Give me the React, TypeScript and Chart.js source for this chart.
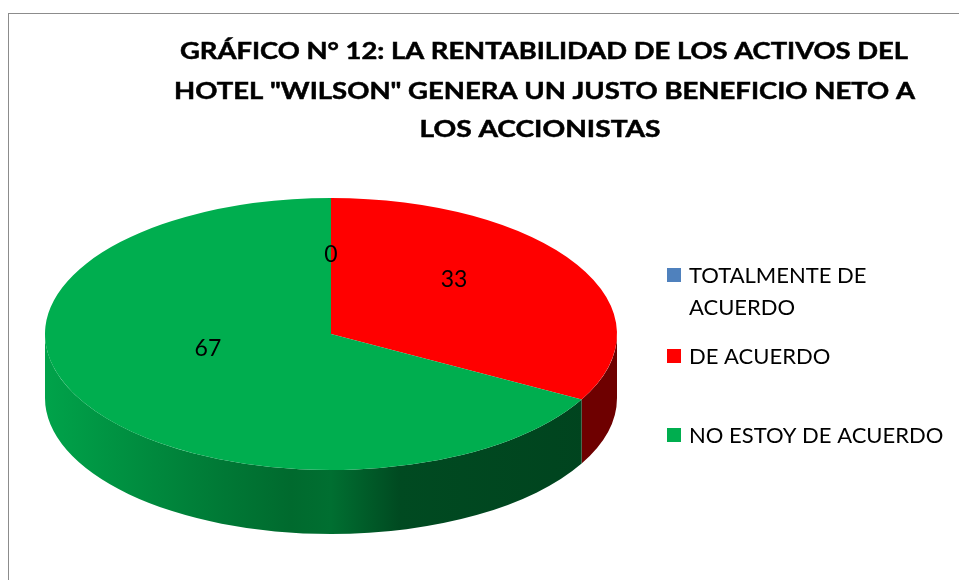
import React, { useEffect, useRef } from "react";
import { Chart, registerables } from "chart.js";

Chart.register(...registerables);

const CATEGORIES = ["TOTALMENTE DE ACUERDO", "DE ACUERDO", "NO ESTOY DE ACUERDO"];
const VALUES = [0, 33, 67];
const COLORS = ["#4F81BD", "#FF0000", "#00AE4F"];
const WALL_COLORS = ["#2F4D71", "#6E0000", "#00A34A"];
const TITLE_LINES = [
  "GRÁFICO N° 12: LA RENTABILIDAD DE LOS ACTIVOS DEL",
  'HOTEL "WILSON" GENERA UN JUSTO BENEFICIO NETO A',
  "LOS ACCIONISTAS",
];
const LEGEND_LINES = [["TOTALMENTE DE", "ACUERDO"], ["DE ACUERDO"], ["NO ESTOY DE ACUERDO"]];

const W = 959;
const H = 580;
const PIE_CX = 331;
const PIE_CY = 334;
const PIE_RY = 136;
const DEPTH = 64;
const PERSPECTIVE_SHIFT = -20;

const pie3d = {
  id: "pie3d",
  beforeDraw(chart: any) {
    const ctx = chart.ctx;
    ctx.save();
    ctx.fillStyle = "#ffffff";
    ctx.fillRect(0, 0, W, H);
    ctx.strokeStyle = "#8C8C8C";
    ctx.lineWidth = 1;
    ctx.strokeRect(8.5, 13.5, 1200, 1200);
    // title
    ctx.fillStyle = "#000000";
    ctx.textBaseline = "middle";
    ctx.textAlign = "center";
    ctx.font = "bold 23px Lato";
    const centersY = [52, 92, 130];
    const centersX = [544, 544.5, 540];
    const widths = [728, 741, 241];
    TITLE_LINES.forEach((t, i) => {
      const nat = ctx.measureText(t).width;
      ctx.save();
      ctx.translate(centersX[i], centersY[i]);
      ctx.scale(widths[i] / nat, 1);
      ctx.fillText(t, 0, 0);
      ctx.strokeStyle = "#000000";
      ctx.lineWidth = 0.5;
      ctx.strokeText(t, 0, 0);
      ctx.restore();
    });
    // legend
    ctx.textAlign = "left";
    ctx.font = "22px Lato";
    const rowY = [275, 356, 435];
    LEGEND_LINES.forEach((lines, i) => {
      ctx.fillStyle = COLORS[i];
      ctx.fillRect(667, rowY[i] - 7, 14, 14);
      ctx.fillStyle = "#000000";
      lines.forEach((l, j) => ctx.fillText(l, 689, rowY[i] + 1 + j * 32));
    });
    ctx.restore();
  },
  beforeDatasetsDraw(chart: any) {
    const ctx = chart.ctx;
    const meta = chart.getDatasetMeta(0);
    const el0 = meta.data[0];
    const R = el0.outerRadius;
    const k = PIE_RY / R;
    // side walls (front half only)
    meta.data.forEach((el: any, i: number) => {
      const s = el.startAngle;
      const e = el.endAngle;
      if (e - s <= 0) return;
      [-2 * Math.PI, 0, 2 * Math.PI].forEach((off) => {
        const a = Math.max(s + off, 0);
        const b = Math.min(e + off, Math.PI);
        if (b <= a) return;
        ctx.save();
        let fill: any = WALL_COLORS[i];
        if (i === 2) {
          const g = ctx.createLinearGradient(PIE_CX - R, 0, PIE_CX + R, 0);
          g.addColorStop(0, "#00A34A");
          g.addColorStop(0.3, "#007A36");
          g.addColorStop(0.43, "#006A2E");
          g.addColorStop(0.5, "#006F31");
          g.addColorStop(0.62, "#004A21");
          g.addColorStop(1, "#00431E");
          fill = g;
        }
        ctx.fillStyle = fill;
        ctx.beginPath();
        ctx.ellipse(PIE_CX, PIE_CY, R, PIE_RY, 0, a, b, false);
        ctx.lineTo(PIE_CX + R * Math.cos(b), PIE_CY + PIE_RY * Math.sin(b) + DEPTH);
        ctx.ellipse(PIE_CX, PIE_CY + DEPTH, R, PIE_RY, 0, b, a, true);
        ctx.closePath();
        ctx.fill();
        ctx.restore();
      });
    });
    ctx.save();
    ctx.translate(PIE_CX, PIE_CY);
    ctx.scale(1, k);
    ctx.translate(-el0.x, -el0.y);
  },
  afterDatasetsDraw(chart: any) {
    const ctx = chart.ctx;
    ctx.restore();
    const meta = chart.getDatasetMeta(0);
    const R = meta.data[0].outerRadius;
    const k = PIE_RY / R;
    ctx.save();
    ctx.fillStyle = "#000000";
    ctx.font = "23px Lato";
    ctx.textAlign = "center";
    ctx.textBaseline = "middle";
    meta.data.forEach((el: any, i: number) => {
      const mid = (el.startAngle + el.endAngle) / 2;
      const d = VALUES[i] === 0 ? 0.44 : 0.5;
      const x = PIE_CX + d * R * Math.cos(mid);
      const y = PIE_CY + PERSPECTIVE_SHIFT + k * d * R * Math.sin(mid);
      ctx.fillText(String(VALUES[i]), x, y);
    });
    ctx.restore();
  },
};

export default function App() {
  const ref = useRef<HTMLCanvasElement | null>(null);
  useEffect(() => {
    if (!ref.current) return;
    const chart = new Chart(ref.current, {
      type: "pie",
      data: {
        labels: CATEGORIES,
        datasets: [
          {
            data: VALUES,
            backgroundColor: COLORS,
            borderWidth: 0,
            clip: false,
          } as any,
        ],
      },
      options: {
        animation: false,
        responsive: false,
        events: [],
        layout: { padding: { left: PIE_CX - 286, right: W - (PIE_CX + 286), top: 4, bottom: 4 } },
        plugins: {
          legend: { display: false },
          title: { display: false },
          tooltip: { enabled: false },
        },
      },
      plugins: [pie3d],
    });
    return () => chart.destroy();
  }, []);
  return (
    <div style={{ position: "fixed", left: 0, top: 0, width: W, height: H, background: "#fff" }}>
      <canvas ref={ref} width={W} height={H} style={{ width: W, height: H, display: "block" }} />
    </div>
  );
}
